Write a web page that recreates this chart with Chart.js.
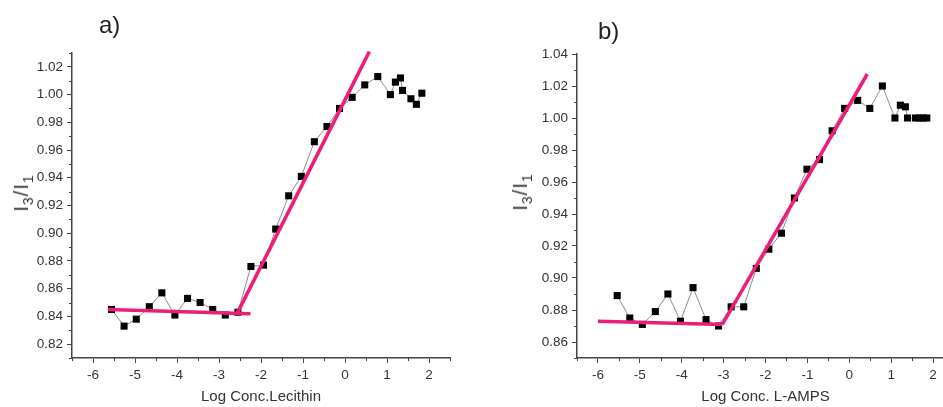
<!DOCTYPE html>
<html>
<head>
<meta charset="utf-8">
<script src="https://cdn.jsdelivr.net/npm/chart.js@4/dist/chart.umd.min.js"></script>
<style>
  html, body { margin: 0; padding: 0; background: #fff; overflow: hidden; }
  body { width: 943px; height: 407px; position: relative; font-family: "Liberation Sans", Arial, sans-serif; color: #222; }
  .box { position: absolute; top: 0; height: 407px; }
  .panel { position: absolute; font-size: 24px; line-height: 1; color: #222; }
  .ytitle { position: absolute; font-size: 20px; letter-spacing: 1px; color: #333; white-space: nowrap;
            transform: translate(-50%, -50%) rotate(-90deg); }
  .ytitle sub { font-size: 14px; vertical-align: -5px; }
</style>
</head>
<body>
<div class="box" style="left:0;width:470px"><canvas id="chartA"></canvas></div>
<div class="box" style="left:470px;width:500px"><canvas id="chartB"></canvas></div>
<div class="panel" style="left:99px;top:13px">a)</div>
<div class="panel" style="left:598px;top:19px">b)</div>
<div class="ytitle" style="left:23px;top:193px">I<sub>3</sub>/I<sub>1</sub></div>
<div class="ytitle" style="left:522px;top:192px">I<sub>3</sub>/I<sub>1</sub></div>
<script>
// a) Lecithin
var concA = [-5.56, -5.26, -4.97, -4.66, -4.36, -4.05, -3.75, -3.45, -3.15, -2.85, -2.55,
             -2.24, -1.94, -1.65, -1.34, -1.04, -0.73, -0.43, -0.13, 0.17, 0.47, 0.78,
             1.08, 1.20, 1.32, 1.37, 1.57, 1.70, 1.83];
var ratioA = [0.845, 0.833, 0.838, 0.847, 0.857, 0.841, 0.853, 0.850, 0.845, 0.841, 0.843,
              0.876, 0.877, 0.903, 0.927, 0.941, 0.966, 0.977, 0.990, 0.998, 1.007, 1.013,
              1.000, 1.009, 1.012, 1.003, 0.997, 0.993, 1.001];
var flatA_x = [-5.64, -2.25], flatA_y = [0.845, 0.842];
var riseA_x = [-2.57, 0.58], riseA_y = [0.842, 1.031];

// b) L-AMPS
var concB = [-5.54, -5.24, -4.94, -4.63, -4.33, -4.03, -3.73, -3.42, -3.12, -2.82, -2.52,
             -2.22, -1.92, -1.62, -1.31, -1.01, -0.71, -0.41, -0.11, 0.20, 0.49, 0.79,
             1.09, 1.22, 1.34, 1.39, 1.58, 1.67, 1.76, 1.85];
var ratioB = [0.889, 0.875, 0.871, 0.879, 0.890, 0.873, 0.894, 0.874, 0.870, 0.882, 0.882,
              0.906, 0.918, 0.928, 0.950, 0.968, 0.974, 0.992, 1.006, 1.011, 1.006, 1.020,
              1.000, 1.008, 1.007, 1.000, 1.000, 1.000, 1.000, 1.000];
var flatB_x = [-6.0, -3.03], flatB_y = [0.873, 0.871];
var riseB_x = [-3.03, 0.43], riseB_y = [0.871, 1.0275];

// axis ticks
var xTicks = [-6, -5, -4, -3, -2, -1, 0, 1, 2];
var xMinor = [-6.5, -5.5, -4.5, -3.5, -2.5, -1.5, -0.5, 0.5, 1.5, 2.5];
var yTicksA = [0.82, 0.84, 0.86, 0.88, 0.90, 0.92, 0.94, 0.96, 0.98, 1.00, 1.02];
var yMinorA = [0.81, 0.83, 0.85, 0.87, 0.89, 0.91, 0.93, 0.95, 0.97, 0.99, 1.01, 1.03];
var yTicksB = [0.86, 0.88, 0.90, 0.92, 0.94, 0.96, 0.98, 1.00, 1.02, 1.04];
var yMinorB = [0.85, 0.87, 0.89, 0.91, 0.93, 0.95, 0.97, 0.99, 1.01, 1.03];

var axisColor = '#444';
var fitColor = '#ec1e79';

function pts(xs, ys) {
  return xs.map(function (x, i) { return { x: x, y: ys[i] }; });
}

// short ticks between the labelled ones
var minorTicks = {
  id: 'minorTicks',
  afterDraw: function (chart, args, opts) {
    var ctx = chart.ctx, sx = chart.scales.x, sy = chart.scales.y;
    ctx.save();
    ctx.strokeStyle = axisColor;
    ctx.lineWidth = 1;
    opts.x.forEach(function (v) {
      var p = Math.round(sx.getPixelForValue(v)) + 0.5;
      ctx.beginPath(); ctx.moveTo(p, sx.top); ctx.lineTo(p, sx.top + 3); ctx.stroke();
    });
    opts.y.forEach(function (v) {
      var p = Math.round(sy.getPixelForValue(v)) + 0.5;
      ctx.beginPath(); ctx.moveTo(sy.right, p); ctx.lineTo(sy.right - 3, p); ctx.stroke();
    });
    ctx.restore();
  }
};

function makeChart(id, cfg) {
  var ctx = document.getElementById(id).getContext('2d');
  return new Chart(ctx, {
    type: 'scatter',
    data: {
      datasets: [
        { data: pts(cfg.flatX, cfg.flatY), showLine: true, borderColor: fitColor, borderWidth: 3.5,
          pointRadius: 0, clip: false, order: 0 },
        { data: pts(cfg.riseX, cfg.riseY), showLine: true, borderColor: fitColor, borderWidth: 3.5,
          pointRadius: 0, clip: false, order: 0 },
        { data: pts(cfg.xs, cfg.ys), showLine: true, borderColor: '#8c8c8c', borderWidth: 1,
          pointStyle: 'rect', pointRadius: 5, pointBackgroundColor: '#000', pointBorderColor: '#000',
          pointBorderWidth: 0, order: 1 }
      ]
    },
    options: {
      responsive: true,
      maintainAspectRatio: false,
      animation: false,
      events: [],
      layout: { padding: cfg.padding },
      plugins: {
        legend: { display: false },
        tooltip: { enabled: false },
        minorTicks: { x: xMinor, y: cfg.yMinor }
      },
      scales: {
        x: {
          type: 'linear', min: -6.5, max: 2.5,
          afterBuildTicks: function (s) { s.ticks = xTicks.map(function (v) { return { value: v }; }); },
          afterFit: function (s) { s.height = 49; },
          grid: { drawOnChartArea: false, drawTicks: true, tickLength: 5, color: axisColor, lineWidth: 1 },
          border: { display: true, color: axisColor, width: 1.5 },
          ticks: { padding: 4, color: '#333', font: { family: 'Liberation Sans', size: 13.5 },
                   maxRotation: 0, callback: function (v) { return String(v); } },
          title: { display: true, text: cfg.xTitle, color: '#333',
                   font: { family: 'Liberation Sans', size: 15 }, padding: { top: 0, bottom: 1 } }
        },
        y: {
          type: 'linear', min: cfg.yMin, max: cfg.yMax,
          afterBuildTicks: function (s) { s.ticks = cfg.yTicks.map(function (v) { return { value: v }; }); },
          afterFit: function (s) { s.width = cfg.yWidth; },
          grid: { drawOnChartArea: false, drawTicks: true, tickLength: 5, color: axisColor, lineWidth: 1 },
          border: { display: true, color: axisColor, width: 1.5 },
          ticks: { padding: 4, color: '#333', font: { family: 'Liberation Sans', size: 13.5 },
                   callback: function (v) { return v.toFixed(2); } },
          title: { display: false }
        }
      }
    },
    plugins: [minorTicks]
  });
}

makeChart('chartA', {
  xs: concA, ys: ratioA, flatX: flatA_x, flatY: flatA_y, riseX: riseA_x, riseY: riseA_y,
  yMin: 0.81, yMax: 1.03, yTicks: yTicksA, yMinor: yMinorA, yWidth: 72,
  padding: { top: 53, right: 20, bottom: 0, left: 0 }, xTitle: 'Log Conc.Lecithin'
});

makeChart('chartB', {
  xs: concB, ys: ratioB, flatX: flatB_x, flatY: flatB_y, riseX: riseB_x, riseY: riseB_y,
  yMin: 0.85, yMax: 1.04, yTicks: yTicksB, yMinor: yMinorB, yWidth: 107,
  padding: { top: 54, right: 16, bottom: 0, left: 0 }, xTitle: 'Log Conc. L-AMPS'
});
</script>
</body>
</html>
